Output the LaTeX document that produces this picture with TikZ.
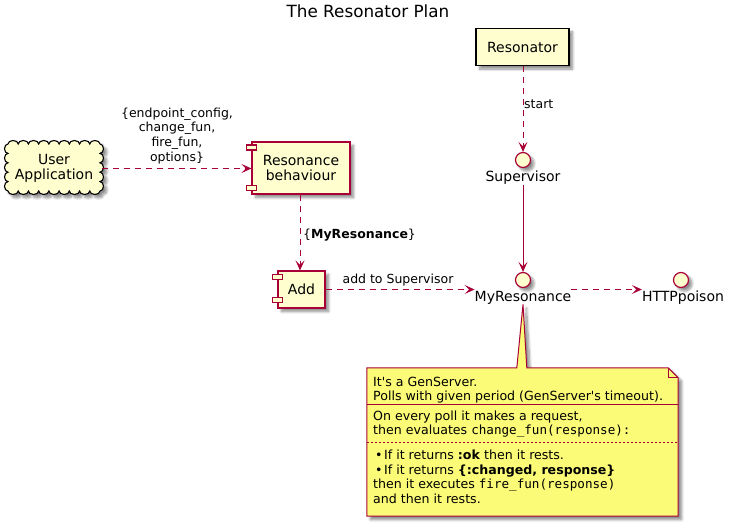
\documentclass[tikz,border=0pt]{standalone}
\usepackage{fontspec}
\setmainfont{DejaVu Sans}
\setmonofont{DejaVu Sans Mono}
\usetikzlibrary{arrows.meta,shadows.blur,calc}
\definecolor{umlred}{HTML}{A80036}
\definecolor{umlfill}{HTML}{FEFECE}
\definecolor{notefill}{HTML}{FBFB77}
\tikzset{
 shd/.style={blur shadow={shadow xshift=3.5pt, shadow yshift=-3.5pt, shadow blur radius=2.5pt, shadow blur steps=8, shadow opacity=45}},
 comp/.style={draw=umlred, fill=umlfill, line width=1.1pt, shd, font=\fontsize{14}{15}\selectfont, align=center, inner sep=0pt},
 iface/.style={circle, draw=umlred, fill=umlfill, line width=1.2pt, minimum size=15pt, inner sep=0pt, shd},
 lbl/.style={font=\fontsize{14}{15}\selectfont, inner sep=0pt},
 elbl/.style={font=\fontsize{12.5}{14.7}\selectfont, inner sep=0pt, align=center},
 conn/.style={draw=umlred, line width=1pt, -{Stealth[length=10pt,width=9pt,inset=4.5pt]}},
 dsh/.style={conn, dash pattern=on 6pt off 5pt},
 ntext/.style={font=\fontsize{12.6}{15}\selectfont, anchor=base west, inner sep=0pt},
 small/.style={draw=umlred, fill=umlfill, line width=1.1pt},
}
\begin{document}
\begin{tikzpicture}[x=1pt,y=-1pt]
\useasboundingbox (0,0) rectangle (736,527);
% title
\node[font=\fontsize{16.8}{18}\selectfont, inner sep=0pt, anchor=base] (title) at (368,18) {The Resonator Plan};

% cloud
\filldraw[draw=black, fill=umlfill, line width=1.1pt, shd] (8,144)
  \foreach \i in {1,...,9} { arc[start angle=180, end angle=360, x radius=5.111, y radius=3.5] }
  \foreach \i in {1,...,5} { arc[start angle=270, end angle=450, x radius=3.5, y radius=4.7] }
  \foreach \i in {1,...,9} { arc[start angle=0, end angle=180, x radius=5.111, y radius=3.5] }
  \foreach \i in {1,...,5} { arc[start angle=90, end angle=270, x radius=3.5, y radius=4.7] }
  -- cycle;
\node[lbl, align=center, minimum width=96pt, minimum height=52pt] (user) at (54,168.5) {User\\Application};

% Resonance behaviour component
\node[comp, minimum width=98pt, minimum height=52pt] (rb) at (301,168) {Resonance\\behaviour};
\filldraw[small] ($(rb.north west)+(-5,3.5)$) rectangle ++(10,5);
\filldraw[small] ($(rb.south west)+(-5,-9)$) rectangle ++(10,5);

% Add component
\node[comp, minimum width=47pt, minimum height=37pt] (add) at (301.5,289.5) {Add};
\filldraw[small] ($(add.north west)+(-5,4)$) rectangle ++(10,5);
\filldraw[small] ($(add.south west)+(-5,-11)$) rectangle ++(10,5);

% Resonator
\node[draw=black, fill=umlfill, line width=1.1pt, shd, minimum width=93pt, minimum height=37pt, lbl] (res) at (522.5,47) {Resonator};

% interfaces
\node[iface] (sup) at (523,160) {};
\node[lbl, anchor=north] (supl) at (523,171) {Supervisor};
\node[iface] (myr) at (523,280) {};
\node[lbl, anchor=north] (myrl) at (523,291) {MyResonance};
\node[iface] (http) at (681,280) {};
\node[lbl, anchor=north] (httpl) at (683,291) {HTTPpoison};

% connectors
\draw[dsh] (user.east) -- (rb.west |- user.east);
\node[elbl, anchor=north] (l1) at (177,107.5) {\{endpoint\_config,\\change\_fun,\\fire\_fun,\\options\}};

\draw[dsh] (rb.south -| 300,0) -- (add.north -| 300,0);
\node[elbl, anchor=base west] (l2) at (303,238) {\{\textbf{MyResonance}\}};

\draw[dsh] (add.east) -- (add.east -| myrl.west);
\node[elbl, anchor=base] (l3) at (398,283) {add to Supervisor};

\draw[dsh] (res.south -| sup.north) -- (sup.north);
\node[elbl, anchor=base west] (l4) at (524,108) {start};

\draw[conn] (supl.south) -- (myr.north);

\draw[dsh] (myrl.east |- add.east) -- (httpl.west |- add.east);

% note
\node[minimum width=311pt, minimum height=148pt, inner sep=0pt] (note) at (522.5,442) {};
\filldraw[draw=umlred, fill=notefill, line width=1pt, shd]
  (note.north west) -- ++(150,0) -- (myrl.south) -- ($(note.north west)+(160,0)$)
  -- ($(note.north east)+(-10,0)$) -- ($(note.north east)+(0,10)$) -- (note.south east) -- (note.south west) -- cycle;
\draw[draw=umlred, line width=1pt] ($(note.north east)+(-10,0)$) -- ++(0,10) -- ++(10,0);
\draw[draw=umlred, line width=1pt] (367,404) -- (678,404);
\draw[draw=umlred, line width=0.7pt, dash pattern=on 2pt off 2pt] (367,442) -- (678,442);

\node[ntext] (n1) at (373,386) {It\textquotesingle s a GenServer.};
\node[ntext] (n2) at (373,400) {Polls with given period (GenServer\textquotesingle s timeout).};
\node[ntext] (n3) at (373,420) {On every poll it makes a request,};
\node[ntext] (n4) at (373,434) {then evaluates \texttt{change\_fun(response):}};
\node[ntext] (n5) at (373,459) {\hspace{2pt}•\hspace{1.5pt}If it returns \textbf{:ok} then it rests.};
\node[ntext] (n6) at (373,474) {\hspace{2pt}•\hspace{1.5pt}If it returns \textbf{\{:changed, response\}}};
\node[ntext] (n7) at (373,488) {then it executes \texttt{fire\_fun(response)}};
\node[ntext] (n8) at (373,503) {and then it rests.};
\end{tikzpicture}
\end{document}
